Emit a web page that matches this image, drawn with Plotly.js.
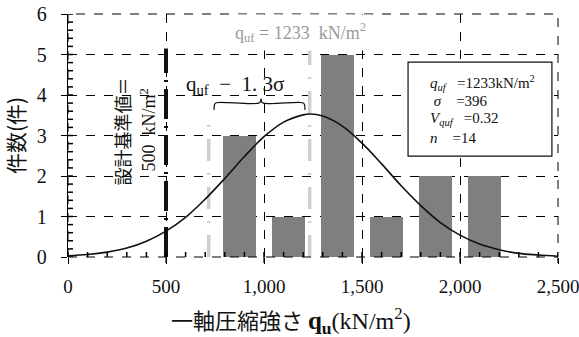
<!DOCTYPE html>
<html><head><meta charset="utf-8">
<script src="https://cdn.plot.ly/plotly-3.0.1.min.js"></script>
<style>html,body{margin:0;padding:0;background:#fff}#chart{width:579px;height:337px}</style>
</head><body><div id="chart"></div>
<script>
// ---- data ----
const binCenters = [875, 1125, 1375, 1625, 1875, 2125];
const counts = [3, 1, 5, 1, 2, 2];
const curveX = [0,100,200,300,400,500,600,700,800,900,1000,1100,1200,1233,1300,1400,1500,1600,1700,1800,1900,2000,2100,2200,2300,2400,2500];
const curveY = [0.03,0.06,0.12,0.22,0.39,0.64,0.98,1.43,1.94,2.48,2.97,3.33,3.51,3.53,3.48,3.23,2.81,2.30,1.76,1.27,0.85,0.54,0.32,0.18,0.09,0.05,0.02];
const designLineX = [500, 500];
const designLineY = [0, 5.15];
const lowerLineX = [718, 718];
const lowerLineY = [0, 3.5];
const meanLineX = [1233, 1233];
const meanLineY = [0, 5.1];
const braceX = [745, 748, 756, 978, 985, 992, 1198, 1206, 1209];
const braceY = [3.63, 3.77, 3.81, 3.81, 3.90, 3.81, 3.81, 3.77, 3.63];
const xRange = [0, 2500];
const yRange = [0, 6];
const xTickStep = 500, xMinorStep = 100;
const yTickStep = 1, yMinorStep = 0.2;

const serif = 'Liberation Serif';
const cjk = 'Noto Sans CJK JP';

const W = 579, H = 337, M = {l:68, r:21, t:14, b:80};
const plotW = W - M.l - M.r, plotH = H - M.t - M.b;

const traces = [
  {type:'bar', x:binCenters, y:counts, width:170, marker:{color:'#7f7f81', line:{width:0}}, hoverinfo:'skip'},
  {type:'scatter', mode:'lines', x:designLineX, y:designLineY, line:{color:'#111', width:4, dash:'30px,7px,2px,7px'}},
  {type:'scatter', mode:'lines', x:lowerLineX, y:lowerLineY, line:{color:'#cfcfcf', width:3.5, dash:'22px,12px,2px,12px'}},
  {type:'scatter', mode:'lines', x:meanLineX, y:meanLineY, line:{color:'#cfcfcf', width:3.5, dash:'22px,12px,2px,12px'}},
  {type:'scatter', mode:'lines', x:curveX, y:curveY, line:{color:'#111', width:1.6, shape:'spline'}},
  {type:'scatter', mode:'lines', x:braceX, y:braceY, line:{color:'#111', width:1.2, shape:'spline'}}
];

// tick marks as shapes (minor inside, major outside)
const tickShapes = [];
for (let v = xRange[0]; v <= xRange[1] + 1e-9; v += xMinorStep) {
  tickShapes.push({type:'line', xref:'x', yref:'paper', x0:v, x1:v, y0:0, y1:5/plotH, line:{color:'#000', width:1.5}, layer:'above'});
}
for (let v = xRange[0]; v <= xRange[1] + 1e-9; v += xTickStep) {
  tickShapes.push({type:'line', xref:'x', yref:'paper', x0:v, x1:v, y0:0, y1:-6/plotH, line:{color:'#000', width:1.2}, layer:'above'});
}
for (let i = 0; i <= Math.round((yRange[1]-yRange[0])/yMinorStep); i++) {
  const v = yRange[0] + i*yMinorStep;
  tickShapes.push({type:'line', xref:'paper', yref:'y', x0:0, x1:5/plotW, y0:v, y1:v, line:{color:'#000', width:1.5}, layer:'above'});
}

const layout = {
  width:W, height:H,
  margin:M,
  paper_bgcolor:'#fff', plot_bgcolor:'#fff',
  font:{family:serif, size:17, color:'#111'},
  separators:'.,',
  showlegend:false,
  bargap:0,
  xaxis:{
    range:xRange, tickmode:'linear', tick0:0, dtick:xTickStep, tickformat:',d',
    showgrid:true, gridcolor:'#000', griddash:'dash', gridwidth:1,
    zeroline:false, showline:false,
    ticks:'outside', ticklen:6, tickcolor:'#000',
    ticklabelstandoff:6, ticklabeloverflow:'allow',
    tickfont:{family:serif, size:19, color:'#111'}
  },
  yaxis:{
    range:yRange, tickmode:'linear', tick0:0, dtick:yTickStep,
    showgrid:true, gridcolor:'#000', griddash:'dash', gridwidth:1,
    zeroline:false, showline:true, linecolor:'#000', linewidth:1.2,
    ticks:'outside', ticklen:6, tickcolor:'#000',
    ticklabelstandoff:10,
    tickfont:{family:serif, size:20, color:'#111'},
    title:{text:'件数(件)', font:{family:cjk, size:21, color:'#111'}, standoff:6}
  },
  shapes:[
    {type:'rect', xref:'paper', yref:'paper', x0:0, x1:1, y0:0, y1:1, line:{color:'#000', width:1, dash:'dash'}},
    {type:'rect', xref:'x', yref:'y', x0:1735, x1:2469, y0:2.49, y1:4.81, fillcolor:'#fff', line:{color:'#111', width:1.2}, layer:'above'}
  ].concat(tickShapes),
  annotations:[
    {x:0.455, y:-0.26, xref:'paper', yref:'paper', xanchor:'center', yanchor:'middle', showarrow:false, text:'一軸圧縮強さ <b><span style="font-family:Liberation Serif;font-size:25px">q<sub>u</sub></span></b><span style="font-family:Liberation Serif;font-size:24px">(kN/m<sup>2</sup>)</span>', font:{family:cjk, size:22, color:'#111'}},
    {x:1184, y:5.55, xref:'x', yref:'y', showarrow:false, text:'q<sub>uf</sub> = 1233  kN/m<sup>2</sup>', bgcolor:'#fff', borderpad:5, font:{family:serif, size:18, color:'#9a9a9a'}},
    {x:852, y:4.25, xref:'x', yref:'y', showarrow:false, text:'q<sub>uf</sub>  −  1. 3σ', font:{family:serif, size:21, color:'#111'}},
    {x:276, y:3.1, xref:'x', yref:'y', showarrow:false, textangle:-90, text:'設計基準値＝', font:{family:cjk, size:18, color:'#111'}},
    {x:408, y:3.15, xref:'x', yref:'y', showarrow:false, textangle:-90, text:'500  kN/m<sup>2</sup>', font:{family:serif, size:18, color:'#111'}},
    {x:1837, y:4.30, xref:'x', yref:'y', xanchor:'left', showarrow:false, text:'<i>q<sub>uf</sub></i>   =1233kN/m<sup>2</sup>', font:{family:serif, size:15, color:'#111'}},
    {x:1837, y:3.85, xref:'x', yref:'y', xanchor:'left', showarrow:false, text:' <i>σ</i>    =396', font:{family:serif, size:15, color:'#111'}},
    {x:1837, y:3.41, xref:'x', yref:'y', xanchor:'left', showarrow:false, text:'<i>V<sub>quf</sub></i>   =0.32', font:{family:serif, size:15, color:'#111'}},
    {x:1837, y:2.94, xref:'x', yref:'y', xanchor:'left', showarrow:false, text:'<i>n</i>    =14', font:{family:serif, size:15, color:'#111'}}
  ]
};

Plotly.newPlot('chart', traces, layout, {staticPlot:true, displayModeBar:false});
</script></body></html>
